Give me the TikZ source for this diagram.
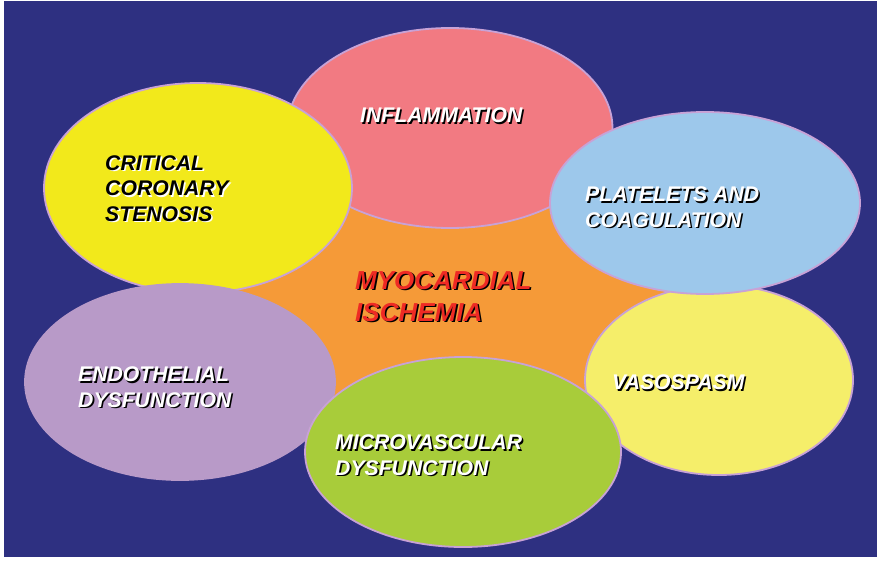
\documentclass[tikz,border=0pt]{standalone}
\usepackage{fontspec}
\setmainfont{Liberation Sans}
\usepackage{tikz}
\usetikzlibrary{shapes.geometric}

\definecolor{bgblue}{HTML}{2E3081}
\definecolor{core}{HTML}{F59A38}
\definecolor{rim}{HTML}{C8A2D6}
\definecolor{pinkish}{HTML}{F27A82}
\definecolor{lemon}{HTML}{F2E91B}
\definecolor{skyblue}{HTML}{9DC8EB}
\definecolor{paleyellow}{HTML}{F5EE6A}
\definecolor{lime}{HTML}{A8CC3A}
\definecolor{lilac}{HTML}{B89AC8}
\definecolor{alarm}{HTML}{EE2A24}

% text with a drop shadow: shadow colour, text colour, text
\newcommand{\shadowed}[3]{\makebox[0pt][l]{\textcolor{#1}{\hspace{1.6pt}\raisebox{-1.6pt}{#3}}}\textcolor{#2}{#3}}

\begin{document}
\begin{tikzpicture}[x=1pt, y=-1pt,
    blob/.style={draw=rim, line width=1.8pt, ellipse, inner sep=0pt},
    lbl/.style={anchor=west, align=left, inner sep=0pt,
      font=\fontsize{21.2}{25.5}\selectfont\bfseries\itshape}]
  \useasboundingbox (0,0) rectangle (877,562);
  \fill[bgblue] (4,1) rectangle (877,557);

  % centre
  \node[ellipse, fill=core, minimum width=470, minimum height=300] (core) at (445,290) {};

  \node[blob, fill=pinkish, minimum width=325, minimum height=200] (inflam) at (450,128) {};
  \node[blob, fill=lemon, minimum width=308, minimum height=210] (stenosis) at (198,188) {};
  \node[blob, fill=lilac, draw=lilac, minimum width=310, minimum height=196] (endo) at (180,382) {};
  \node[blob, fill=paleyellow, minimum width=268, minimum height=190] (spasm) at (719,380) {};
  \node[blob, fill=skyblue, minimum width=310, minimum height=182] (plate) at (705,203) {};
  \node[blob, fill=lime, minimum width=316, minimum height=190] (micro) at (463,452) {};

  % labels
  \node[lbl] (t-inflam) at (360,116) {\shadowed{black}{white}{INFLAMMATION}};
  \node[lbl] (t-stenosis) at (105,189) {\shadowed{white}{black}{CRITICAL}\\
    \shadowed{white}{black}{CORONARY}\\ \shadowed{white}{black}{STENOSIS}};
  \node[lbl] (t-plate) at (585,208) {\shadowed{black}{white}{PLATELETS AND}\\
    \shadowed{black}{white}{COAGULATION}};
  \node[lbl, font=\fontsize{26}{32}\selectfont\bfseries\itshape] (t-core) at (355,297)
    {\shadowed{black}{alarm}{MYOCARDIAL}\\ \shadowed{black}{alarm}{ISCHEMIA}};
  \node[lbl] (t-spasm) at (612,383) {\shadowed{black}{white}{VASOSPASM}};
  \node[lbl] (t-endo) at (78,388) {\shadowed{black}{white}{ENDOTHELIAL}\\
    \shadowed{black}{white}{DYSFUNCTION}};
  \node[lbl] (t-micro) at (335,456) {\shadowed{black}{white}{MICROVASCULAR}\\
    \shadowed{black}{white}{DYSFUNCTION}};
\end{tikzpicture}
\end{document}
